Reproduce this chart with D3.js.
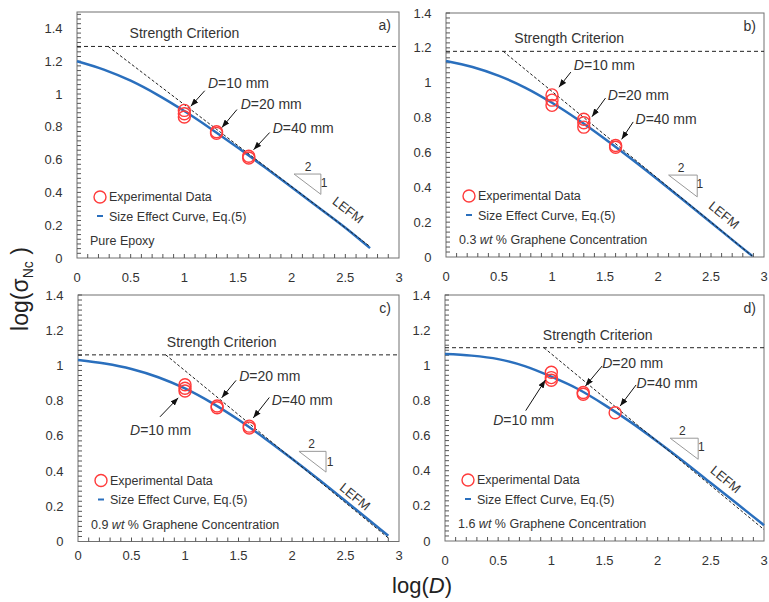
<!DOCTYPE html>
<html>
<head>
<meta charset="utf-8">
<script src="https://cdn.jsdelivr.net/npm/d3@7"></script>
<style>
  body { margin: 0; background: #fff; }
  svg text { font-family: "Liberation Sans", Arial, Helvetica, sans-serif; }
</style>
</head>
<body>
<svg id="chart" width="769" height="602"></svg>
<script>
// ---- axis ticks ----
const xTicks = [0, 0.5, 1, 1.5, 2, 2.5, 3];
const xTickLabels = ["0", "0.5", "1", "1.5", "2", "2.5", "3"];
const yTicks = [0, 0.2, 0.4, 0.6, 0.8, 1, 1.2, 1.4];
const yTickLabels = ["0", "0.2", "0.4", "0.6", "0.8", "1", "1.2", "1.4"];

// ---- panel identifiers and materials ----
const panelLetters = ["a)", "b)", "c)", "d)"];
const grapheneWt = [null, "0.3", "0.9", "1.6"];   // null = neat resin
const specimenSizes = ["10", "20", "40"];          // D in mm

// ---- size effect curves, Eq.(5): log(D) vs log(sigma_Nc) ----
const curveLogD_a = [0, 0.25, 0.5, 0.75, 1, 1.25, 1.5, 1.75, 2, 2.25, 2.5, 2.73];
const curveLogS_a = [1.200, 1.149, 1.081, 0.995, 0.896, 0.787, 0.672, 0.553, 0.431, 0.308, 0.184, 0.060];
const curveLogD_b = [0, 0.25, 0.5, 0.75, 1, 1.25, 1.5, 1.75, 2, 2.25, 2.5, 2.75, 2.89];
const curveLogS_b = [1.125, 1.090, 1.039, 0.971, 0.885, 0.786, 0.677, 0.562, 0.443, 0.321, 0.198, 0.074, 0.006];
const curveLogD_c = [0, 0.25, 0.5, 0.75, 1, 1.25, 1.5, 1.75, 2, 2.25, 2.5, 2.75, 2.9];
const curveLogS_c = [1.031, 1.011, 0.980, 0.933, 0.869, 0.787, 0.691, 0.584, 0.470, 0.352, 0.230, 0.107, 0.033];
const curveLogD_d = [0, 0.25, 0.5, 0.75, 1, 1.25, 1.5, 1.75, 2, 2.25, 2.5, 2.75, 3];
const curveLogS_d = [1.064, 1.055, 1.035, 0.995, 0.935, 0.865, 0.775, 0.675, 0.565, 0.450, 0.330, 0.210, 0.090];

// ---- strength criterion level (horizontal asymptote) ----
const strengthLevel = [1.29, 1.18, 1.06, 1.10];

// ---- LEFM asymptote (slope -1/2) end points [logD, logS] ----
const lefmFrom = [[0.29, 1.29], [0.54, 1.18], [0.82, 1.06], [0.93, 1.10]];
const lefmTo   = [[2.73, 0.07], [2.89, 0.005], [2.9, 0.02], [3.0, 0.065]];

// ---- experimental data ----
const testLogD_a = [1, 1, 1, 1.3, 1.3, 1.6, 1.6];
const testLogS_a = [0.90, 0.88, 0.86, 0.77, 0.76, 0.62, 0.61];
const testLogD_b = [1, 1, 1, 1.3, 1.3, 1.3, 1.6, 1.6];
const testLogS_b = [0.93, 0.90, 0.87, 0.79, 0.77, 0.745, 0.64, 0.63];
const testLogD_c = [1, 1, 1, 1.3, 1.3, 1.6, 1.6];
const testLogS_c = [0.89, 0.87, 0.855, 0.77, 0.76, 0.655, 0.645];
const testLogD_d = [1, 1, 1, 1.3, 1.3, 1.6];
const testLogS_d = [0.96, 0.93, 0.915, 0.845, 0.835, 0.73];

const curves = [
  d3.zip(curveLogD_a, curveLogS_a), d3.zip(curveLogD_b, curveLogS_b),
  d3.zip(curveLogD_c, curveLogS_c), d3.zip(curveLogD_d, curveLogS_d)
];
const tests = [
  d3.zip(testLogD_a, testLogS_a), d3.zip(testLogD_b, testLogS_b),
  d3.zip(testLogD_c, testLogS_c), d3.zip(testLogD_d, testLogS_d)
];

// ---- layout of the four plot areas ----
const layout = [
  { l: 77,  r: 399, t: 12,  b: 258,   yMax: 1.5, xLab: 23.5 },
  { l: 446, r: 764, t: 13,  b: 257,   yMax: 1.4, xLab: 24 },
  { l: 78,  r: 399, t: 295, b: 541.5, yMax: 1.4, xLab: 18.5 },
  { l: 445, r: 764, t: 295, b: 541,   yMax: 1.4, xLab: 23.5 }
];

// annotation placement in data units: label start, arrow tail, arrow head
const sizeNotes = [
  [ { lab: [1.22, 1.037], from: [1.19, 1.02], to: [1.06, 0.925] },
    { lab: [1.525, 0.909], from: [1.49, 0.905], to: [1.35, 0.795] },
    { lab: [1.823, 0.764], from: [1.795, 0.765], to: [1.645, 0.66] } ],
  [ { lab: [1.206, 1.073], from: [1.178, 1.061], to: [1.065, 0.974] },
    { lab: [1.526, 0.901], from: [1.505, 0.912], to: [1.377, 0.805] },
    { lab: [1.788, 0.763], from: [1.766, 0.775], to: [1.657, 0.675] } ],
  [ { lab: [0.486, 0.607], from: [0.766, 0.708], to: [0.937, 0.816] },
    { lab: [1.507, 0.911], from: [1.477, 0.915], to: [1.343, 0.816] },
    { lab: [1.81, 0.773],  from: [1.788, 0.818], to: [1.638, 0.702] } ],
  [ { lab: [0.453, 0.660], from: [0.759, 0.742], to: [0.944, 0.916] },
    { lab: [1.478, 0.983], from: [1.478, 0.996], to: [1.321, 0.882] },
    { lab: [1.802, 0.869], from: [1.797, 0.888], to: [1.647, 0.768] } ]
];
const strengthLabelX = [0.49, 0.645, 0.83, 0.92];
// slope triangle: top-left corner, "2" and "1" labels, LEFM label
const slopeTri = [
  { p: [2.022, 0.512], w: 0.25, h: 0.124, two: [2.152, 0.555], one: [2.301, 0.457], lefm: [2.525, 0.293] },
  { p: [2.10, 0.470],  w: 0.27, h: 0.125, two: [2.218, 0.510], one: [2.395, 0.419], lefm: [2.623, 0.241] },
  { p: [2.065, 0.512], w: 0.253, h: 0.118, two: [2.184, 0.556], one: [2.355, 0.455], lefm: [2.589, 0.255] },
  { p: [2.118, 0.585], w: 0.263, h: 0.12, two: [2.233, 0.628], one: [2.411, 0.537], lefm: [2.640, 0.351] }
];

const BLUE = "#2a6fbd", RED = "#ff3b3b", FRAME = "#707070", TXT = "#333";

const svg = d3.select("#chart");
svg.append("rect").attr("width", 769).attr("height", 602).attr("fill", "#fff");

const defs = svg.append("defs");
defs.append("marker").attr("id", "arrow")
  .attr("markerUnits", "userSpaceOnUse")
  .attr("viewBox", "0 0 8 6").attr("markerWidth", 8).attr("markerHeight", 6)
  .attr("refX", 8).attr("refY", 3).attr("orient", "auto")
  .append("path").attr("d", "M0,0L8,3L0,6Z").attr("fill", "#111");

layout.forEach((L, i) => {
  const x = d3.scaleLinear().domain([0, 3]).range([L.l, L.r]);
  const y = d3.scaleLinear().domain([0, L.yMax]).range([L.b, L.t]);
  const g = svg.append("g");

  // frame
  g.append("rect").attr("x", L.l).attr("y", L.t)
    .attr("width", L.r - L.l).attr("height", L.b - L.t)
    .attr("fill", "none").attr("stroke", FRAME).attr("stroke-width", 1);

  // minor ticks (inside)
  const xMinor = d3.range(1, 30).map(k => k / 10);
  g.selectAll(".xm").data(xMinor).join("line")
    .attr("x1", d => x(d)).attr("x2", d => x(d))
    .attr("y1", L.b).attr("y2", L.b - 4)
    .attr("stroke", "#555").attr("stroke-width", 1);
  const yStep = 0.2 / 7;
  const yMinor = d3.range(1, Math.floor(L.yMax / yStep + 1e-6) + 1).map(k => k * yStep);
  g.selectAll(".ym").data(yMinor).join("line")
    .attr("x1", L.l).attr("x2", L.l + 4)
    .attr("y1", d => y(d)).attr("y2", d => y(d))
    .attr("stroke", "#555").attr("stroke-width", 1);

  // tick labels
  g.selectAll(".xl").data(xTicks).join("text")
    .attr("x", d => x(d)).attr("y", L.b + L.xLab)
    .attr("text-anchor", "middle").attr("font-size", 13).attr("fill", TXT)
    .text((d, k) => xTickLabels[k]);
  g.selectAll(".yl").data(yTicks).join("text")
    .attr("x", L.l - 14.5).attr("y", d => y(d)).attr("dy", "0.35em")
    .attr("text-anchor", "end").attr("font-size", 13).attr("fill", TXT)
    .text((d, k) => yTickLabels[k]);

  // strength criterion
  g.append("line")
    .attr("x1", L.l).attr("x2", L.r)
    .attr("y1", y(strengthLevel[i])).attr("y2", y(strengthLevel[i]))
    .attr("stroke", "#222").attr("stroke-width", 1).attr("stroke-dasharray", "4,3");
  g.append("text")
    .attr("x", x(strengthLabelX[i])).attr("y", y(strengthLevel[i]) - 8)
    .attr("font-size", 14).attr("fill", TXT).text("Strength Criterion");

  // size effect curve
  const line = d3.line().x(d => x(d[0])).y(d => y(d[1])).curve(d3.curveMonotoneX);
  g.append("path").datum(curves[i]).attr("d", line)
    .attr("fill", "none").attr("stroke", BLUE).attr("stroke-width", 2.5);

  // LEFM asymptote
  g.append("line")
    .attr("x1", x(lefmFrom[i][0])).attr("y1", y(lefmFrom[i][1]))
    .attr("x2", x(lefmTo[i][0])).attr("y2", y(lefmTo[i][1]))
    .attr("stroke", "#222").attr("stroke-width", 1).attr("stroke-dasharray", "3,2");

  // experimental data
  g.selectAll(".pt").data(tests[i]).join("circle")
    .attr("cx", d => x(d[0])).attr("cy", d => y(d[1])).attr("r", 6)
    .attr("fill", "none").attr("stroke", RED).attr("stroke-width", 1.4);

  // specimen size call-outs
  sizeNotes[i].forEach((n, k) => {
    g.append("line")
      .attr("x1", x(n.from[0])).attr("y1", y(n.from[1]))
      .attr("x2", x(n.to[0])).attr("y2", y(n.to[1]))
      .attr("stroke", "#111").attr("stroke-width", 1)
      .attr("marker-end", "url(#arrow)");
    const t = g.append("text").attr("x", x(n.lab[0])).attr("y", y(n.lab[1]))
      .attr("font-size", 14).attr("fill", TXT);
    t.append("tspan").attr("font-style", "italic").text("D");
    t.append("tspan").text("=" + specimenSizes[k] + " mm");
  });

  // slope triangle and LEFM label
  const s = slopeTri[i];
  const tri = [[s.p[0], s.p[1]], [s.p[0] + s.w, s.p[1]], [s.p[0] + s.w, s.p[1] - s.h]];
  g.append("path")
    .attr("d", "M" + tri.map(p => x(p[0]) + "," + y(p[1])).join("L") + "Z")
    .attr("fill", "none").attr("stroke", "#999").attr("stroke-width", 1);
  g.append("text").attr("x", x(s.two[0])).attr("y", y(s.two[1])).attr("dy", "0.35em")
    .attr("text-anchor", "middle").attr("font-size", 12).attr("fill", TXT).text("2");
  g.append("text").attr("x", x(s.one[0])).attr("y", y(s.one[1])).attr("dy", "0.35em")
    .attr("text-anchor", "middle").attr("font-size", 12).attr("fill", TXT).text("1");
  const ang = Math.atan2(y(0) - y(0.5), x(1) - x(0)) * 180 / Math.PI;
  g.append("text")
    .attr("transform", `translate(${x(s.lefm[0])},${y(s.lefm[1])}) rotate(${ang})`)
    .attr("dy", "0.35em").attr("text-anchor", "middle")
    .attr("font-size", 13).attr("fill", TXT).text("LEFM");

  // panel letter
  g.append("text").attr("x", L.r - 8).attr("y", L.t + 17.5)
    .attr("text-anchor", "end").attr("font-size", 14).attr("fill", TXT)
    .text(panelLetters[i]);

  // legend
  g.append("circle").attr("cx", L.l + 23).attr("cy", L.b - 61).attr("r", 6)
    .attr("fill", "none").attr("stroke", RED).attr("stroke-width", 1.4);
  g.append("text").attr("x", L.l + 32).attr("y", L.b - 57)
    .attr("font-size", 12.5).attr("fill", TXT).text("Experimental Data");
  g.append("line").attr("x1", L.l + 20).attr("x2", L.l + 26)
    .attr("y1", L.b - 42).attr("y2", L.b - 42)
    .attr("stroke", BLUE).attr("stroke-width", 2);
  g.append("text").attr("x", L.l + 32).attr("y", L.b - 37.5)
    .attr("font-size", 12.5).attr("fill", TXT).text("Size Effect Curve, Eq.(5)");

  // material
  const m = g.append("text").attr("x", L.l + 13).attr("y", L.b - 13)
    .attr("font-size", 12.5).attr("fill", TXT);
  if (grapheneWt[i] === null) {
    m.text("Pure Epoxy");
  } else {
    m.append("tspan").text(grapheneWt[i] + " ");
    m.append("tspan").attr("font-style", "italic").text("wt");
    m.append("tspan").text(" % Graphene Concentration");
  }
});

// shared axis titles
const yt = svg.append("text")
  .attr("transform", "translate(28,289) rotate(-90)")
  .attr("text-anchor", "middle").attr("font-size", 23).attr("fill", "#222");
yt.append("tspan").text("log(σ");
yt.append("tspan").attr("font-size", 14).attr("dy", 5).text("Nc");
yt.append("tspan").attr("dy", -5).text(" )");

const xt = svg.append("text")
  .attr("x", 422).attr("y", 593)
  .attr("text-anchor", "middle").attr("font-size", 22).attr("fill", "#222");
xt.append("tspan").text("log(");
xt.append("tspan").attr("font-style", "italic").text("D");
xt.append("tspan").text(")");
</script>
</body>
</html>
